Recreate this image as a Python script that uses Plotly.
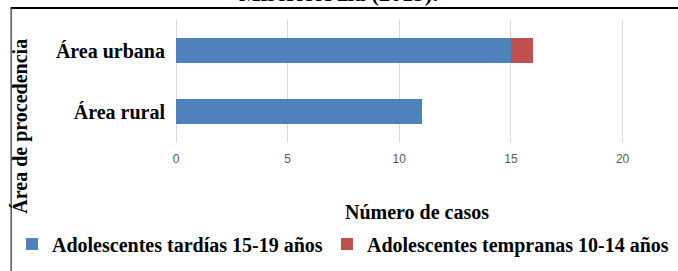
import plotly.graph_objects as go

categories = ["Área rural", "Área urbana"]
tardias = [11, 15]
tempranas = [0, 1]
x_ticks = [0, 5, 10, 15, 20]
series_names = ["Adolescentes tardías 15-19 años", "Adolescentes tempranas 10-14 años"]
title_text = "Misericordia (2013)."
x_title = "Número de casos"
y_title = "Área de procedencia"

W, H = 678, 271
L, R, T, B = 175.5, 0, 20, 129
pw, ph = W - L - R, H - T - B

def px(xp):
    return (xp - L) / pw

def py(yp):
    return (H - B - yp) / ph

serif = "Liberation Serif"
fig = go.Figure()
fig.add_trace(go.Bar(y=categories, x=tardias, orientation="h", name="<b>%s</b>" % series_names[0],
                     marker=dict(color="#4F81BD", line=dict(width=0)), legend="legend"))
fig.add_trace(go.Bar(y=categories, x=tempranas, orientation="h", name="<b>%s</b>" % series_names[1],
                     marker=dict(color="#C0504D", line=dict(width=0)), legend="legend2"))

leg_common = dict(orientation="h", xref="container", yref="container", xanchor="left",
                  yanchor="middle", y=1 - 244 / H, bgcolor="rgba(0,0,0,0)",
                  font=dict(family=serif, size=20, color="black"), itemwidth=30)

fig.update_layout(
    width=W, height=H, barmode="stack", bargap=0.59,
    margin=dict(l=L, r=R, t=T, b=B, pad=0, autoexpand=False),
    paper_bgcolor="white", plot_bgcolor="white",
    showlegend=True,
    legend=dict(x=(52 - 40) / W, **leg_common),
    legend2=dict(x=(367 - 40) / W, **leg_common),
    xaxis=dict(range=[0, pw / 22.35], tickvals=x_ticks, automargin=False,
               showgrid=True, gridcolor="#D9D9D9", gridwidth=1,
               zeroline=True, zerolinecolor="#D9D9D9", zerolinewidth=1,
               showline=False, ticks="",
               tickfont=dict(family="Liberation Sans", size=12, color="#595959"),
               ticklabelstandoff=8),
    yaxis=dict(categoryorder="array", categoryarray=categories, automargin=False,
               showgrid=False, showline=False, ticks="", zeroline=False,
               tickfont=dict(family=serif, size=20, color="black"),
               ticklabelstandoff=10,
               tickvals=categories, ticktext=["<b>%s</b>" % c for c in categories]),
    font=dict(family=serif),
)

fig.add_annotation(text="<b>%s</b>" % y_title, xref="paper", yref="paper",
                   x=px(19), y=py(126), textangle=-90, showarrow=False,
                   font=dict(family=serif, size=20, color="black"),
                   xanchor="center", yanchor="middle")
fig.add_annotation(text="<b>%s</b>" % x_title, xref="paper", yref="paper",
                   x=px(417), y=py(212), showarrow=False,
                   font=dict(family=serif, size=20, color="black"),
                   xanchor="center", yanchor="middle")
fig.add_annotation(text="<b>%s</b>" % title_text, xref="paper", yref="paper",
                   x=px(338), y=py(8), showarrow=False,
                   font=dict(family=serif, size=23, color="black"),
                   xanchor="center", yanchor="bottom")

fig.add_shape(type="line", xref="paper", yref="paper", x0=px(10), x1=px(700),
              y0=py(8), y1=py(8), line=dict(color="black", width=2))
fig.add_shape(type="line", xref="paper", yref="paper", x0=px(10.5), x1=px(10.5),
              y0=py(8), y1=py(275), line=dict(color="#555555", width=1.5))

fig.write_html("out.html", config={"displayModeBar": False},
               post_script="document.body.style.margin='0';")
